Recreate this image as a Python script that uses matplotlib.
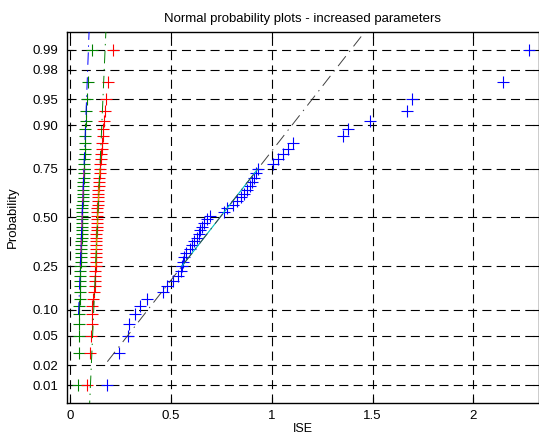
"""Normal probability plots - increased parameters (normplot style)."""
import numpy as np
import matplotlib
matplotlib.use('Agg')
import matplotlib.pyplot as plt
from statistics import NormalDist

plt.rcParams['font.family'] = ['Liberation Sans', 'DejaVu Sans']
plt.rcParams['lines.scale_dashes'] = False

# ISE values per series, sorted (50 points each)
ise_blue = [0.185, 0.243, 0.287, 0.292, 0.322, 0.347, 0.381, 0.460, 0.480, 0.510,
            0.535, 0.550, 0.555, 0.560, 0.565, 0.574, 0.594, 0.604, 0.614, 0.629,
            0.639, 0.644, 0.653, 0.663, 0.678, 0.693, 0.762, 0.777, 0.807, 0.827,
            0.847, 0.861, 0.876, 0.891, 0.901, 0.911, 0.921, 0.931, 1.005, 1.030,
            1.054, 1.079, 1.104, 1.351, 1.376, 1.485, 1.673, 1.693, 2.149, 2.277]
ise_green = [0.042, 0.043, 0.044, 0.045, 0.045, 0.046, 0.047, 0.047, 0.048, 0.048,
             0.049, 0.050, 0.051, 0.052, 0.053, 0.054, 0.055, 0.055, 0.056, 0.057,
             0.057, 0.058, 0.058, 0.059, 0.059, 0.060, 0.060, 0.061, 0.061, 0.062,
             0.062, 0.063, 0.064, 0.065, 0.066, 0.067, 0.068, 0.069, 0.070, 0.071,
             0.072, 0.073, 0.074, 0.075, 0.076, 0.077, 0.079, 0.083, 0.091, 0.107]
ise_red = [0.084, 0.098, 0.104, 0.110, 0.110, 0.111, 0.115, 0.119, 0.122, 0.123,
           0.125, 0.126, 0.127, 0.128, 0.128, 0.129, 0.129, 0.130, 0.130, 0.131,
           0.131, 0.132, 0.132, 0.133, 0.133, 0.134, 0.135, 0.136, 0.137, 0.138,
           0.139, 0.140, 0.141, 0.142, 0.143, 0.144, 0.147, 0.148, 0.150, 0.152,
           0.154, 0.158, 0.160, 0.162, 0.165, 0.167, 0.172, 0.179, 0.188, 0.215]

prob_ticks = [0.01, 0.02, 0.05, 0.10, 0.25, 0.50, 0.75, 0.90, 0.95, 0.98, 0.99]

# matlab colour order: data, quartile line, extension line
data_cols = [(0, 0, 1), (0, 0.5, 0), (1, 0, 0)]
fit_cols = [(0, 0.75, 0.75), (0.75, 0, 0.75), (0.75, 0.75, 0)]
ext_cols = [(0.25, 0.25, 0.25), (0, 0, 1), (0, 0.5, 0)]

nd = NormalDist()
series = [np.array(ise_blue), np.array(ise_green), np.array(ise_red)]
n = len(ise_blue)
zq = np.array([nd.inv_cdf((i - 0.5) / n) for i in range(1, n + 1)])

fig = plt.figure(figsize=(5.39, 4.37), dpi=100)
ax = fig.add_axes([0.1243, 0.0778, 0.8757, 0.849])

for x, c in zip(series, data_cols):
    ax.plot(x, zq, '+', color=c, ms=8, mew=0.8, zorder=3)

z1, z3 = nd.inv_cdf(0.25), nd.inv_cdf(0.75)
for x, cf, ce in zip(series, fit_cols, ext_cols):
    q1, q3 = np.percentile(x, [25, 75], method='hazen')
    slope = (z3 - z1) / (q3 - q1)
    cx, cy = (q1 + q3) / 2, (z1 + z3) / 2
    ax.plot([q1, q3], [z1, z3], '-', color=cf, lw=0.8, zorder=4)
    mx = np.array([x.min(), x.max()])
    ax.plot(mx, cy + slope * (mx - cx), color=ce, lw=0.7, ls=(0, (9, 4, 1, 4)), zorder=4)

ax.set_xlim(-0.015, 2.325)
ax.set_ylim(nd.inv_cdf(0.25 / n), nd.inv_cdf(1 - 0.25 / n))
ax.set_xticks([0, 0.5, 1, 1.5, 2])
ax.set_xticklabels(['0', '0.5', '1', '1.5', '2'])
ax.set_yticks([nd.inv_cdf(p) for p in prob_ticks])
ax.set_yticklabels(['%.2f' % p for p in prob_ticks])
ax.tick_params(direction='in', length=4, width=0.8, top=True, right=True, labelsize=9.5, pad=6, colors='black')
ax.tick_params(axis='x', pad=5)
ax.grid(True, color='black', ls=(0, (6.5, 3.8)), lw=0.8, zorder=1)
for s in ax.spines.values():
    s.set_linewidth(1.0)

ax.set_title('Normal probability plots - increased parameters', fontsize=9.5, pad=7)
ax.set_xlabel('ISE', fontsize=9, labelpad=1)
ax.set_ylabel('Probability', fontsize=9.5, labelpad=10)

fig.savefig('out.png', dpi=100)
